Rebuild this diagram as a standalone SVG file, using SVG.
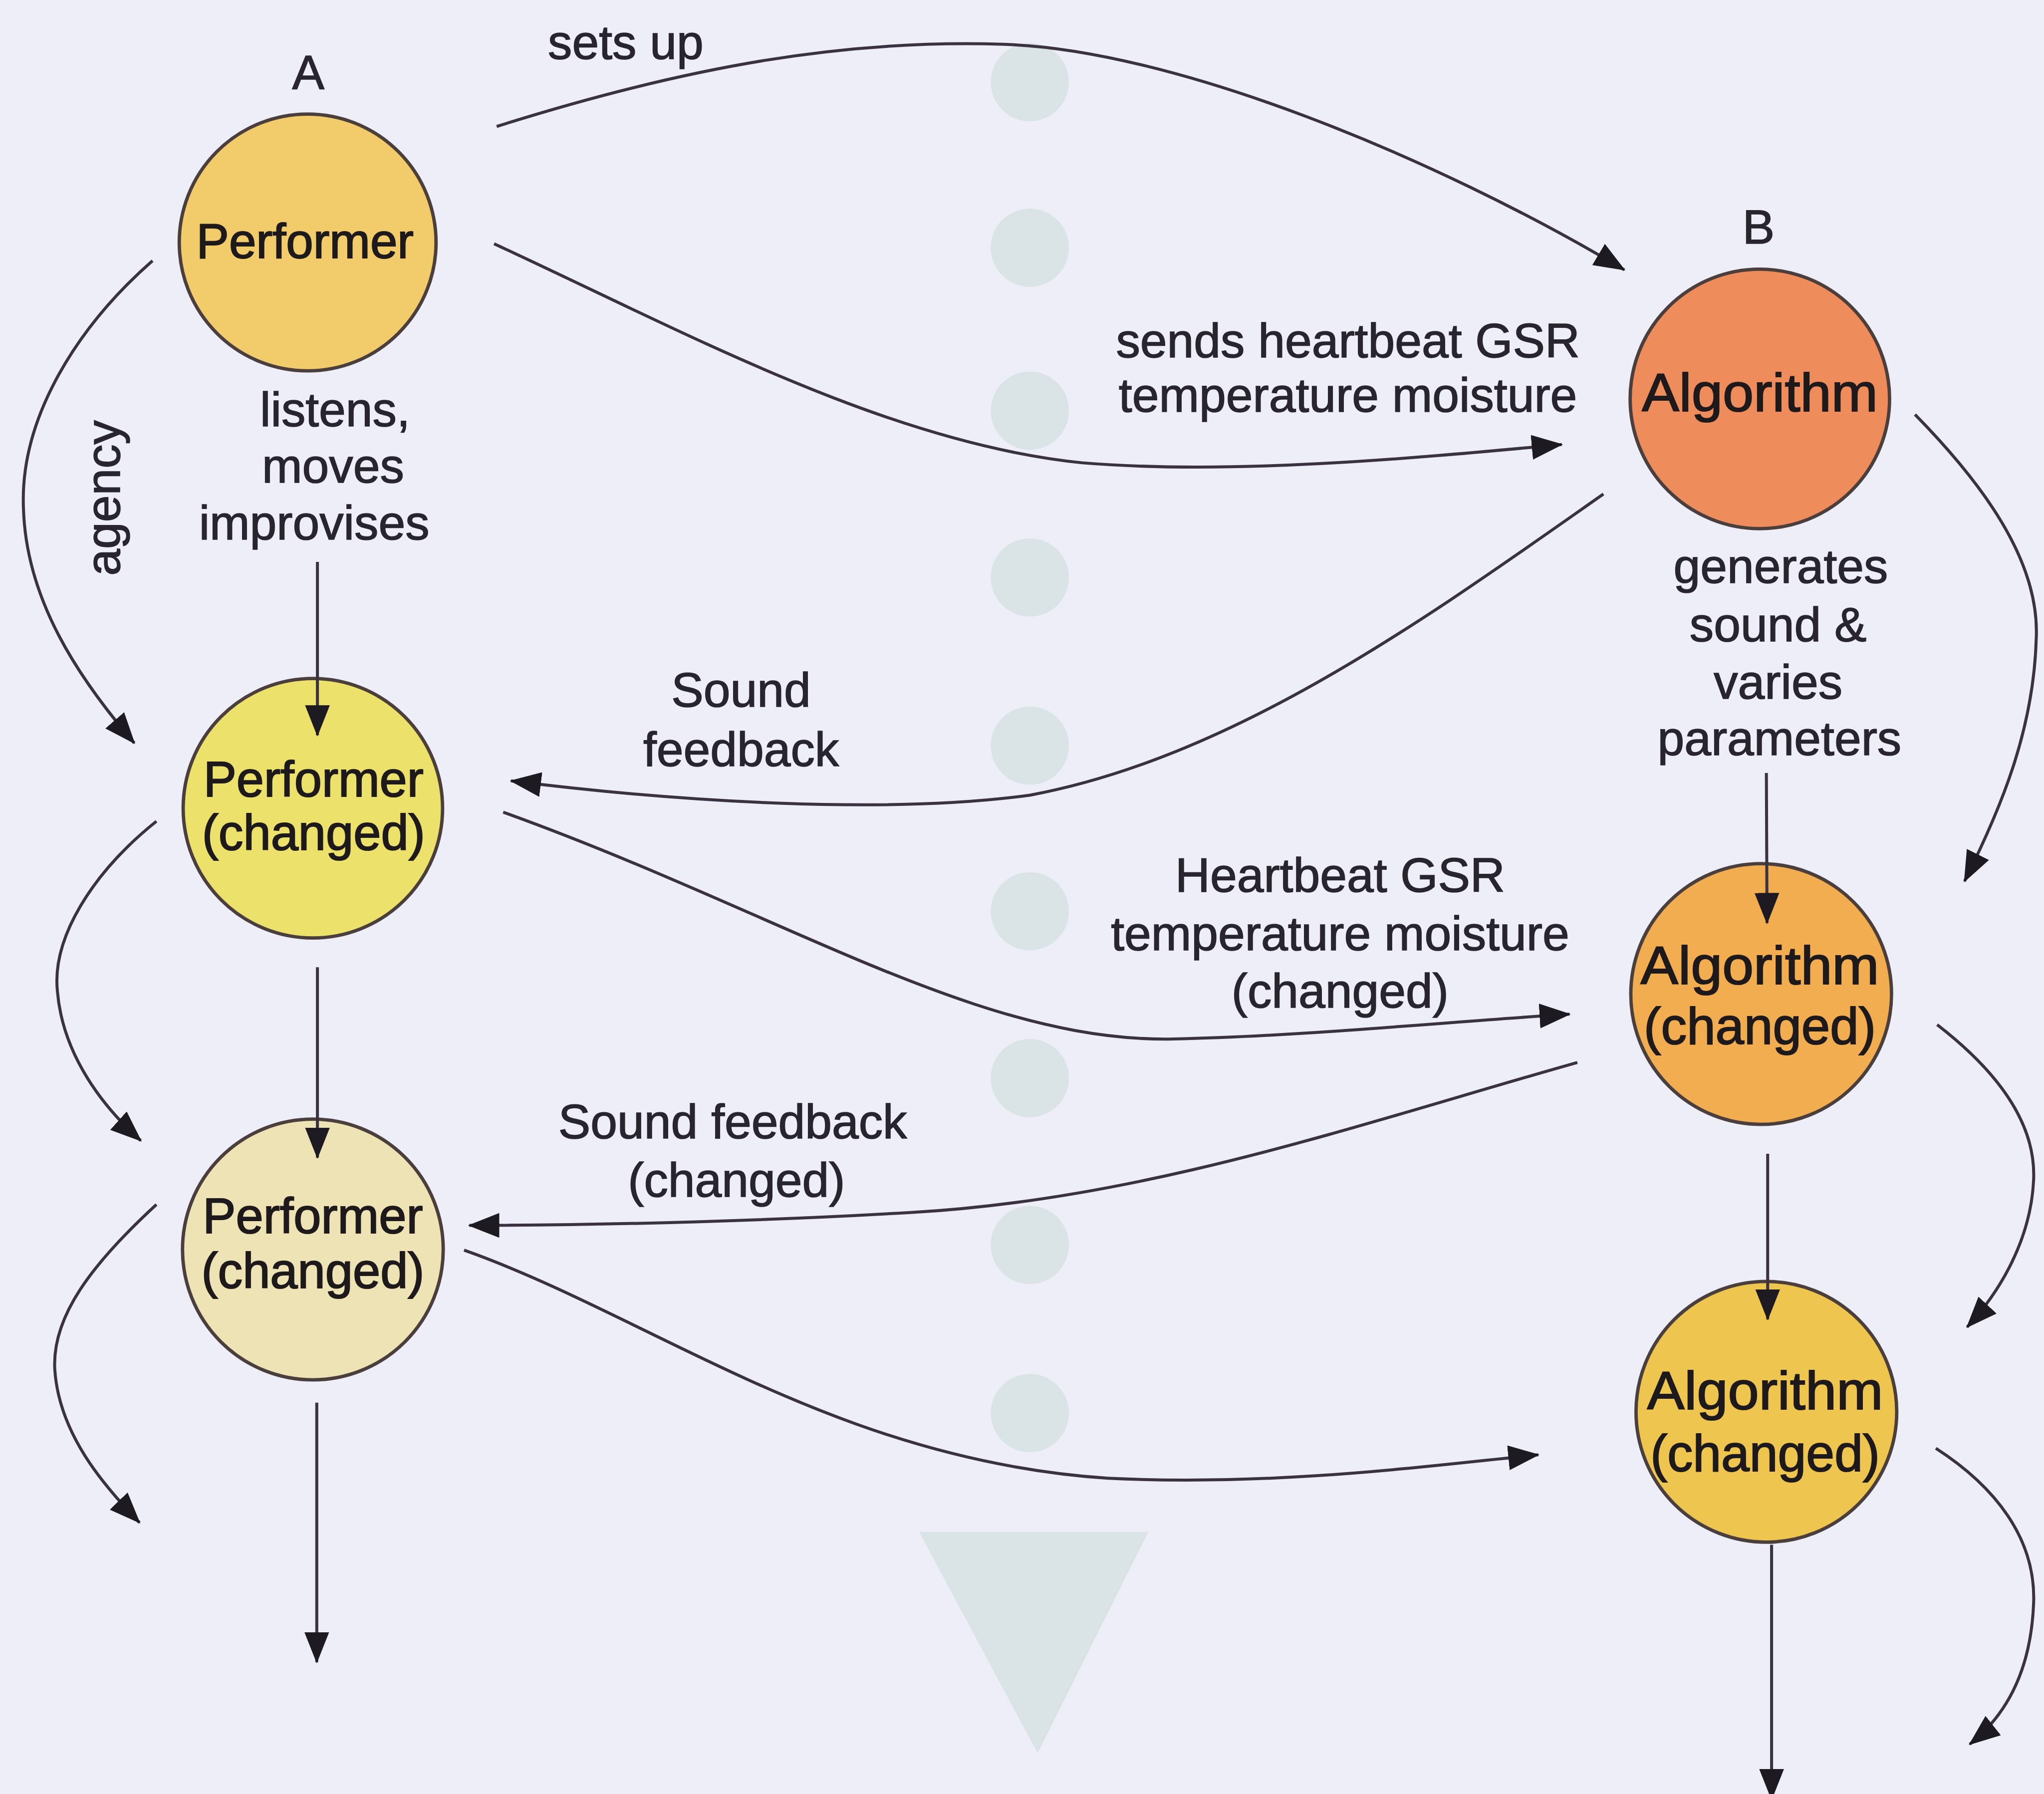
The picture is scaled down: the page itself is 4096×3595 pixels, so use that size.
<svg xmlns="http://www.w3.org/2000/svg" width="4096" height="3595" viewBox="0 0 4096 3595">
  <style>
    .paper { fill: #EEEEF8; }
    .ghost { fill: #DAE3E5; }
    .node circle { stroke: #4A3F3C; stroke-width: 2.6; }
    .ntext { font-family: "Liberation Sans", Arial, sans-serif; fill: #1E1A1C; stroke: #1E1A1C; stroke-width: 0.8; text-anchor: middle; }
    .lbl { font-family: "Liberation Sans", Arial, sans-serif; font-size: 37px; fill: #29252E; stroke: #29252E; stroke-width: 0.6; text-anchor: middle; }
    .edge { fill: none; stroke: #3A3240; stroke-width: 2.3; marker-end: url(#arrow); }
  </style>
  <defs>
    <marker id="arrow" viewBox="0 0 24 19" refX="23" refY="9.5" markerWidth="24" markerHeight="19" orient="auto" markerUnits="userSpaceOnUse">
      <path d="M0,0 L24,9.5 L0,19 z" fill="#1E1A22"/>
    </marker>
  </defs>

  <rect class="paper" x="0" y="0" width="4096" height="3595"/>

  <g transform="scale(2.6123)">
    <!-- faint dots and triangle behind the figure -->
    <g id="page-marks">
      <circle class="ghost" cx="790" cy="63" r="30"/>
      <circle class="ghost" cx="790" cy="190" r="30"/>
      <circle class="ghost" cx="790" cy="315" r="30"/>
      <circle class="ghost" cx="790" cy="443" r="30"/>
      <circle class="ghost" cx="790" cy="572" r="30"/>
      <circle class="ghost" cx="790" cy="699" r="30"/>
      <circle class="ghost" cx="790" cy="827" r="30"/>
      <circle class="ghost" cx="790" cy="955" r="30"/>
      <circle class="ghost" cx="790" cy="1084" r="30"/>
      <polygon class="ghost" points="705,1175 881,1175 796,1345"/>
    </g>

    <!-- nodes -->
    <g id="performer" class="node">
      <circle cx="236" cy="186" r="98.5" fill="#F2CB6A"/>
      <text class="ntext" x="234" y="198" font-size="37.5">Performer</text>
    </g>
    <g id="performer-changed-1" class="node">
      <circle cx="240" cy="620" r="99.5" fill="#ECE16A"/>
      <text class="ntext" x="240.5" y="611" font-size="38">Performer</text>
      <text class="ntext" x="240.5" y="652" font-size="38">(changed)</text>
    </g>
    <g id="performer-changed-2" class="node">
      <circle cx="240" cy="958.5" r="100" fill="#EEE3B4"/>
      <text class="ntext" x="240" y="946" font-size="38">Performer</text>
      <text class="ntext" x="240" y="988" font-size="38">(changed)</text>
    </g>
    <g id="algorithm" class="node">
      <circle cx="1350" cy="306" r="99.5" fill="#EE8C5C"/>
      <text class="ntext" x="1350" y="315.5" font-size="41" textLength="181" lengthAdjust="spacingAndGlyphs">Algorithm</text>
    </g>
    <g id="algorithm-changed-1" class="node">
      <circle cx="1351" cy="762.5" r="100" fill="#F1AD50"/>
      <text class="ntext" x="1350" y="755" font-size="41" textLength="183" lengthAdjust="spacingAndGlyphs">Algorithm</text>
      <text class="ntext" x="1350" y="801" font-size="40" textLength="178" lengthAdjust="spacingAndGlyphs">(changed)</text>
    </g>
    <g id="algorithm-changed-2" class="node">
      <circle cx="1355" cy="1083" r="100" fill="#EEC54F"/>
      <text class="ntext" x="1354" y="1081" font-size="41" textLength="181" lengthAdjust="spacingAndGlyphs">Algorithm</text>
      <text class="ntext" x="1354" y="1128.5" font-size="40" textLength="176" lengthAdjust="spacingAndGlyphs">(changed)</text>
    </g>

    <!-- connectors (drawn over the nodes: the straight arrows reach into the circles) -->
    <g id="connectors">
      <path class="edge" d="M381,97 C530,50 650,30 770,34 C900,38 1100,120 1246,207"/>
      <path class="edge" d="M379,187 C520,252 680,340 830,355 C950,365 1100,350 1198,341"/>
      <path class="edge" d="M1230,379 C1100,470 950,580 790,610 C680,625 520,615 392,599"/>
      <path class="edge" d="M386,623 C600,700 750,800 900,797 C1000,795 1120,783 1204,778"/>
      <path class="edge" d="M1210,815 C1050,860 880,920 700,930 C600,936 470,940 360,940"/>
      <path class="edge" d="M356,959 C500,1010 640,1120 850,1134 C980,1140 1090,1125 1180,1116"/>
      <path class="edge" d="M117,200 C60,250 15,320 18,390 C20,460 60,520 103,570"/>
      <path class="edge" d="M120,630 C70,670 40,720 44,760 C48,810 80,850 108,875"/>
      <path class="edge" d="M120,924 C70,970 40,1010 42,1050 C45,1100 80,1140 107,1168"/>
      <path class="edge" d="M1469,318 C1520,370 1565,430 1562,490 C1560,560 1535,620 1507,676"/>
      <path class="edge" d="M1486,786 C1530,820 1562,860 1560,905 C1558,950 1535,990 1509,1018"/>
      <path class="edge" d="M1485,1111 C1530,1140 1562,1180 1560,1230 C1558,1280 1540,1315 1511,1338"/>
      <path class="edge" d="M243.5,431 L243.5,564"/>
      <path class="edge" d="M243.5,742 L243.5,888"/>
      <path class="edge" d="M243,1076 L243,1275"/>
      <path class="edge" d="M1355,593 L1355.5,708"/>
      <path class="edge" d="M1356,885 L1356,1012"/>
      <path class="edge" d="M1359,1185 L1359,1380"/>
    </g>

    <!-- node letters and connector labels -->
    <g id="labels">
      <text class="lbl" x="236.5" y="68" font-size="35">A</text>
      <text class="lbl" x="1349" y="187" font-size="30">B</text>
      <text class="lbl" x="480" y="45" font-size="36">sets up</text>
      <text class="lbl" x="257" y="327">listens,</text>
      <text class="lbl" x="255.5" y="370">moves</text>
      <text class="lbl" x="241" y="414">improvises</text>
      <text class="lbl" transform="translate(92,382) rotate(-90)" font-size="39">agency</text>
      <text class="lbl" x="1034" y="274">sends heartbeat GSR</text>
      <text class="lbl" x="1034" y="316">temperature moisture</text>
      <text class="lbl" x="1366" y="447">generates</text>
      <text class="lbl" x="1364" y="492">sound &amp;</text>
      <text class="lbl" x="1364" y="536">varies</text>
      <text class="lbl" x="1365" y="579">parameters</text>
      <text class="lbl" x="568.5" y="542">Sound</text>
      <text class="lbl" x="568.5" y="587.5">feedback</text>
      <text class="lbl" x="1028" y="684">Heartbeat GSR</text>
      <text class="lbl" x="1028" y="729">temperature moisture</text>
      <text class="lbl" x="1028" y="773">(changed)</text>
      <text class="lbl" x="562" y="873">Sound feedback</text>
      <text class="lbl" x="565" y="918">(changed)</text>
    </g>
  </g>
</svg>
